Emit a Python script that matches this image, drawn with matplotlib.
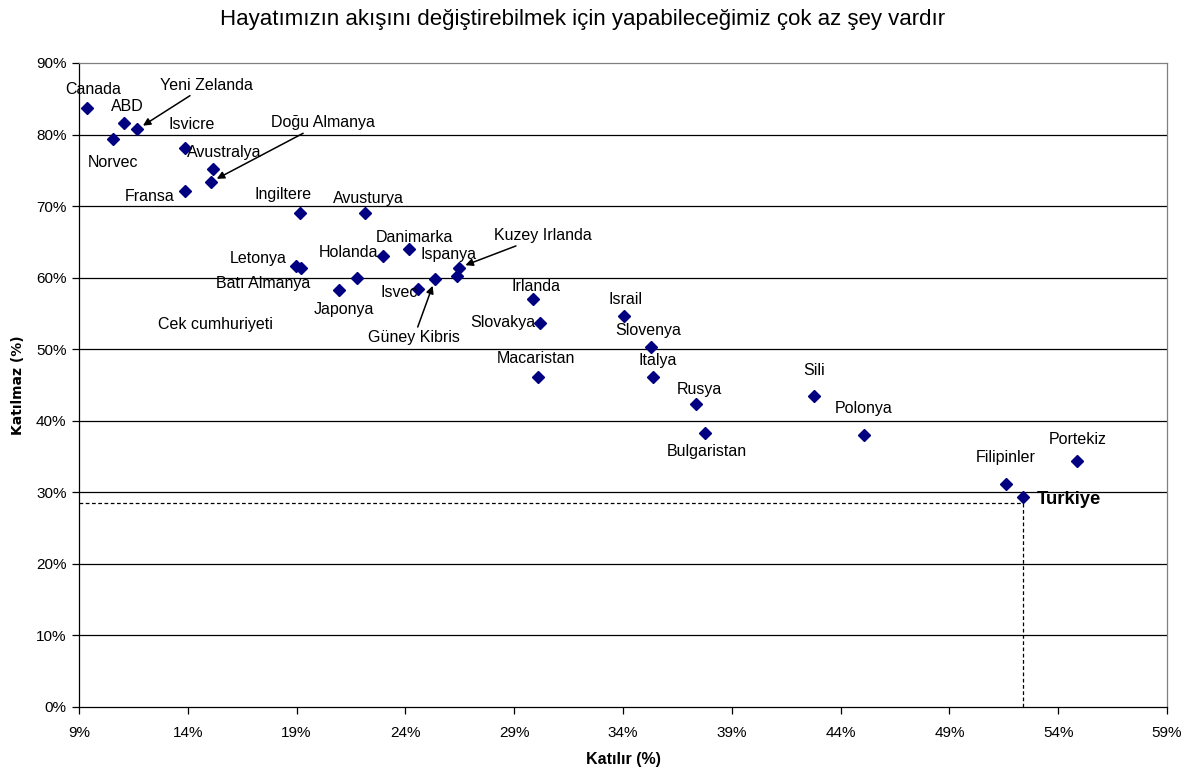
import matplotlib
matplotlib.use("Agg")
import matplotlib.pyplot as plt
from matplotlib.ticker import FuncFormatter

# ---- data (percentages) ----
countries = ["Canada", "ABD", "Yeni Zelanda", "Norvec", "Isvicre", "Avustralya",
             "Doğu Almanya", "Fransa", "Ingiltere", "Avusturya", "Letonya",
             "Batı Almanya", "Cek cumhuriyeti", "Holanda", "Japonya", "Danimarka",
             "Ispanya", "Kuzey Irlanda", "Isvec", "Güney Kibris", "Irlanda",
             "Slovakya", "Macaristan", "Israil", "Slovenya", "Italya", "Rusya",
             "Bulgaristan", "Sili", "Polonya", "Filipinler", "Portekiz", "Turkiye"]
katilir = [9.35, 11.07, 11.67, 10.55, 13.86, 15.14,
           15.05, 13.86, 19.16, 22.16, 18.97,
           19.19, 22.98, 21.76, 20.96, 24.17,
           26.36, 26.46, 24.56, 25.36, 29.88,
           30.19, 30.08, 34.06, 35.27, 35.36, 37.37,
           37.78, 42.78, 45.08, 51.59, 54.88, 52.38]
katilmaz = [83.66, 81.57, 80.72, 79.42, 78.16, 75.14,
            73.37, 72.15, 68.99, 68.99, 61.7,
            61.4, 63.0, 59.9, 58.27, 64.05,
            60.3, 61.4, 58.4, 59.77, 56.97,
            53.7, 46.16, 54.7, 50.27, 46.07, 42.34,
            38.25, 43.46, 38.05, 31.16, 34.42, 29.39]
turkiye_ref_x = 52.4
turkiye_ref_y = 28.5

x_ticks = [9, 14, 19, 24, 29, 34, 39, 44, 49, 54, 59]
y_ticks = [0, 10, 20, 30, 40, 50, 60, 70, 80, 90]

title = "Hayatımızın akışını değiştirebilmek için yapabileceğimiz çok az şey vardır"
xlabel = "Katılır (%)"
ylabel = "Katılmaz (%)"

# ---- label placement (pixel offsets from the point) ----
label_offsets = {
    "Canada": (7, 19), "ABD": (3, 17), "Yeni Zelanda": (69, 44), "Norvec": (0, -24),
    "Isvicre": (7, 23), "Avustralya": (12, 17), "Doğu Almanya": (112, 59),
    "Fransa": (-35, -6), "Ingiltere": (-17, 19), "Avusturya": (3, 15),
    "Letonya": (-38, 7), "Batı Almanya": (-38, -16), "Cek cumhuriyeti": (-168, -68),
    "Holanda": (-8, 26), "Japonya": (5, -19), "Danimarka": (5, 11),
    "Ispanya": (-8, 21), "Kuzey Irlanda": (84, 32), "Isvec": (-18, -3),
    "Güney Kibris": (-21, -58), "Irlanda": (3, 13), "Slovakya": (-37, 0),
    "Macaristan": (-2, 18), "Israil": (1, 16), "Slovenya": (-2, 17),
    "Italya": (5, 17), "Rusya": (3, 15), "Bulgaristan": (2, -18),
    "Sili": (0, 26), "Polonya": (0, 26), "Filipinler": (0, 27),
    "Portekiz": (0, 21), "Turkiye": (46, -3),
}
arrow_labels = {"Yeni Zelanda", "Doğu Almanya", "Güney Kibris", "Kuzey Irlanda"}

plt.rcParams["font.family"] = ["Liberation Sans", "DejaVu Sans"]

fig = plt.figure(figsize=(11.95, 7.72), dpi=100)
ax = fig.add_axes([79 / 1195, 65 / 772, (1167 - 79) / 1195, (707 - 63) / 772])

ax.set_xlim(9, 59)
ax.set_ylim(0, 90)

for yv in y_ticks[1:-1]:
    ax.axhline(yv, color="black", lw=0.9, zorder=1)

# Turkiye reference lines
ax.plot([9, turkiye_ref_x], [turkiye_ref_y, turkiye_ref_y], color="black",
        lw=0.9, dashes=(3, 2), zorder=2)
ax.plot([turkiye_ref_x, turkiye_ref_x], [0, turkiye_ref_y], color="black",
        lw=0.9, dashes=(3, 2), zorder=2)

ax.plot(katilir, katilmaz, linestyle="none", marker="D", markersize=6.3,
        color="#000080", markeredgecolor="#000080", zorder=4)

for name, xv, yv in zip(countries, katilir, katilmaz):
    dx, dy = label_offsets[name]
    kw = dict(fontsize=11.5, color="black")
    if name == "Turkiye":
        kw = dict(fontsize=13.3, fontweight="bold", color="black")
    if name in arrow_labels:
        ax.annotate(name, xy=(xv, yv), xytext=(dx, dy), textcoords="offset pixels",
                    ha="center", va="center",
                    arrowprops=dict(arrowstyle="-|>", color="black", lw=1.1,
                                    shrinkA=0, shrinkB=5, mutation_scale=11),
                    zorder=5, **kw)
    else:
        ax.annotate(name, xy=(xv, yv), xytext=(dx, dy), textcoords="offset pixels",
                    ha="center", va="center", zorder=5, **kw)

ax.set_xticks(x_ticks)
ax.set_yticks(y_ticks)
ax.xaxis.set_major_formatter(FuncFormatter(lambda v, p: f"{v:.0f}%"))
ax.yaxis.set_major_formatter(FuncFormatter(lambda v, p: f"{v:.0f}%"))
ax.tick_params(axis="both", direction="out", length=5, width=0.9,
               labelsize=11, colors="black", pad=4)
ax.tick_params(axis="x", pad=9)

for side, sp in ax.spines.items():
    sp.set_linewidth(0.9)
    sp.set_color("#808080" if side in ("top", "right") else "black")

ax.set_xlabel(xlabel, fontsize=11.5, fontweight="bold", labelpad=8)
ax.set_ylabel(ylabel, fontsize=10, fontweight="bold", family="DejaVu Sans", labelpad=8)

fig.text(583 / 1195, 1 - 20 / 772, title, ha="center", va="center", fontsize=16)

fig.savefig("out.png", dpi=100)
